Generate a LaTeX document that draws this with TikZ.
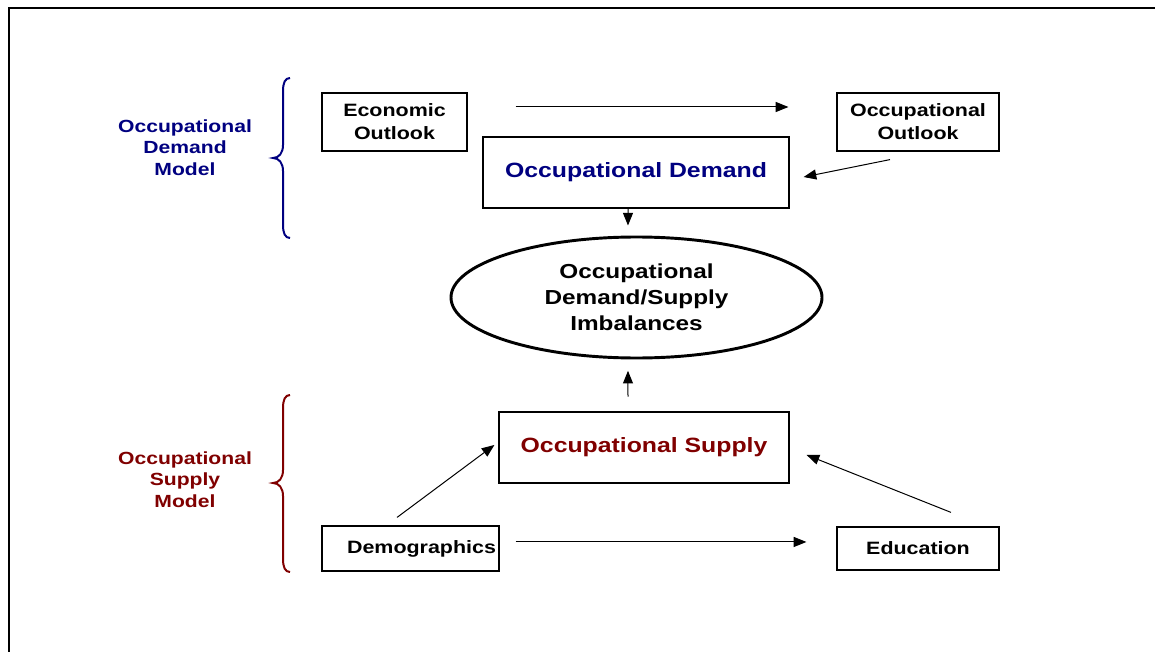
\documentclass[tikz,border=0pt]{standalone}
\usepackage{fontspec}
\setmainfont{Liberation Sans}[FakeStretch=1.2]
\usetikzlibrary{shapes.geometric,arrows.meta}
\definecolor{dblue}{HTML}{000080}
\definecolor{dred}{HTML}{800000}
\tikzset{
  bx/.style 2 args={draw, line width=0.9pt, minimum width={#1*0.75pt}, minimum height={#2*0.75pt}, inner sep=0pt, align=center},
  smalltxt/.style={font=\fontsize{13.4pt}{17.25pt}\selectfont\bfseries},
  bigtxt/.style={font=\fontsize{15.5pt}{18pt}\selectfont\bfseries},
  ellbox/.style={draw, ellipse, line width=2.2pt, minimum width={371*0.75pt}, minimum height={121*0.75pt}, inner sep=0pt, align=center, font=\fontsize{15.2pt}{19.5pt}\selectfont\bfseries},
  modellabel/.style={align=center, font=\fontsize{13.2pt}{16.1pt}\selectfont\bfseries},
  arr/.style={line width=0.75pt, -{Triangle[length=9.5pt,width=7.5pt]}},
  brace/.style={line width=1.5pt},
}
\begin{document}
\begin{tikzpicture}[x=0.75pt,y=-0.75pt]
\useasboundingbox (0,0) rectangle (1155,652);
% outer frame (partly visible)
\draw[line width=1.5pt] (9,652) -- (9,8) -- (1155,8);

% nodes
\node[bx={145}{58}, smalltxt] (econ) at (394.5,122) {Economic\\Outlook};
\node[bx={162}{58}, smalltxt] (occout) at (918,122) {Occupational\\Outlook};
\node[bx={306}{71}, bigtxt, text=dblue] (demand) at (636,172.5) {Occupational Demand};
\node[ellbox] (ell) at (636.5,297.5) {Occupational\\Demand/Supply\\Imbalances};
\node[bx={290}{71}, bigtxt, text=dred] (sup) at (644,447.5) {Occupational Supply};
\node[bx={177}{45}, smalltxt, text width={171*0.75pt}, align=right] (demog) at (410.5,548.5) {Demographics};
\node[bx={162}{43}, smalltxt] (edu) at (918,548.5) {Education};

% model labels
\node[modellabel, text=dblue] (dml) at (185,147.5) {Occupational\\Demand\\Model};
\node[modellabel, text=dred] (sml) at (185,479.5) {Occupational\\Supply\\Model};

% braces
\draw[brace, dblue] (290,78) .. controls (285,78) and (283,83) .. (283,91)
  -- (283,145) .. controls (283,153) and (279,158) .. (273,158)
  .. controls (279,158) and (283,163) .. (283,171)
  -- (283,225) .. controls (283,233) and (285,238) .. (290,238);
\draw[brace, dred] (290,395) .. controls (285,395) and (283,400) .. (283,408)
  -- (283,470) .. controls (283,478) and (279,483) .. (273,483)
  .. controls (279,483) and (283,488) .. (283,496)
  -- (283,559) .. controls (283,567) and (285,572) .. (290,572);

% connectors
\draw[arr, shorten <=36pt, shorten >=36pt] ([yshift=11.25pt]econ.east) -- ([yshift=11.25pt]occout.west);
\draw[arr] ([xshift=-21pt,yshift=-6pt]occout.south) -- ([xshift=10.5pt,yshift=-3.4pt]demand.east);
\draw[arr, shorten >=7.5pt] ([xshift=-6pt]demand.south) -- ([xshift=-6.4pt]ell.north);
\draw[arr, shorten <=11pt, shorten >=8.5pt] ([xshift=-12pt]sup.north) -- ([xshift=-6.4pt]ell.south);
\draw[arr] ([xshift=-10.1pt,yshift=6pt]demog.north) -- ([xshift=-3pt,yshift=1.9pt]sup.west);
\draw[arr, shorten <=12pt, shorten >=22.5pt] ([yshift=4.9pt]demog.east) -- ([yshift=4.9pt]edu.west);
\draw[arr] ([xshift=24.75pt,yshift=10.5pt]edu.north) -- ([xshift=12.75pt,yshift=-5.6pt]sup.east);
\end{tikzpicture}
\end{document}
